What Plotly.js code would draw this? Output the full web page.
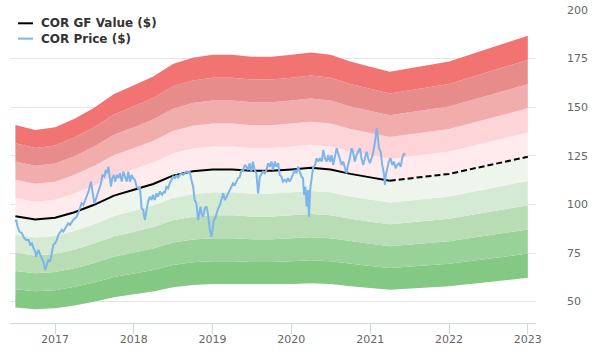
<!DOCTYPE html>
<html>
<head>
<meta charset="utf-8">
<script src="https://cdn.plot.ly/plotly-3.0.1.min.js"></script>
<style>html,body{margin:0;padding:0;background:#fff;}#chart{width:600px;height:360px;}</style>
</head>
<body>
<div id="chart"></div>
<script>
// GF Value (quarterly, then estimates)
const gfDates = ['2016-07-01','2016-10-01','2017-01-01','2017-04-01','2017-07-01','2017-10-01','2018-01-01','2018-04-01','2018-07-01','2018-10-01','2019-01-01','2019-04-01','2019-07-01','2019-10-01','2020-01-01','2020-04-01','2020-07-01','2020-10-01','2021-01-01','2021-04-01','2022-01-01','2023-01-01'];
const gfValues = [93.9,92.2,93.1,96.0,99.8,104.5,107.5,110.5,114.8,117.0,118.0,118.0,117.3,117.3,118.0,118.8,118.0,115.7,113.9,112.2,115.7,124.5];
const gfSolidCount = 20; // solid through 2021-04-01; rest dashed

// band multipliers of GF value and colors (bottom to top)
const bandLevels = [0.5,0.6,0.7,0.8,0.9,1.0,1.1,1.2,1.3,1.4,1.5];
const bandColors = ['#83c883','#98d298','#b8ddb4','#d5ead3','#edf5ec','#ffebee','#fdd4d8','#f1acac','#e88c8b','#f17472'];

// Price
const priceDates = ['2016-06-30','2016-07-05','2016-07-11','2016-07-20','2016-07-31','2016-08-11','2016-08-20','2016-08-31','2016-09-08','2016-09-15','2016-09-23','2016-10-01','2016-10-05','2016-10-16','2016-10-24','2016-11-01','2016-11-08','2016-11-16','2016-11-24','2016-12-01','2016-12-09','2016-12-17','2016-12-24','2017-01-01','2017-01-09','2017-01-16','2017-01-24','2017-02-01','2017-02-08','2017-02-16','2017-02-24','2017-03-03','2017-03-11','2017-03-19','2017-03-26','2017-04-03','2017-04-11','2017-04-18','2017-04-26','2017-05-04','2017-05-12','2017-05-20','2017-05-27','2017-06-04','2017-06-07','2017-06-16','2017-06-22','2017-07-02','2017-07-08','2017-07-17','2017-07-23','2017-08-02','2017-08-08','2017-08-17','2017-08-24','2017-08-30','2017-09-05','2017-09-11','2017-09-17','2017-09-23','2017-09-30','2017-10-06','2017-10-14','2017-10-21','2017-10-29','2017-11-06','2017-11-13','2017-11-21','2017-11-29','2017-12-06','2017-12-14','2017-12-22','2017-12-29','2018-01-06','2018-01-14','2018-01-21','2018-01-29','2018-02-06','2018-02-13','2018-02-21','2018-03-01','2018-03-08','2018-03-16','2018-03-24','2018-03-31','2018-04-08','2018-04-16','2018-04-23','2018-05-01','2018-05-12','2018-05-21','2018-05-24','2018-06-01','2018-06-09','2018-06-17','2018-06-25','2018-07-02','2018-07-10','2018-07-18','2018-07-25','2018-08-02','2018-08-10','2018-08-17','2018-08-25','2018-09-02','2018-09-09','2018-09-17','2018-09-25','2018-10-03','2018-10-10','2018-10-18','2018-10-26','2018-10-30','2018-11-06','2018-11-12','2018-11-18','2018-11-26','2018-12-04','2018-12-11','2018-12-19','2018-12-27','2019-01-01','2019-01-07','2019-01-13','2019-01-20','2019-01-27','2019-02-04','2019-02-12','2019-02-19','2019-02-27','2019-03-07','2019-03-14','2019-03-22','2019-03-30','2019-04-06','2019-04-14','2019-04-22','2019-04-29','2019-05-07','2019-05-15','2019-05-22','2019-05-30','2019-06-07','2019-06-14','2019-06-22','2019-06-30','2019-07-07','2019-07-15','2019-07-23','2019-07-28','2019-07-31','2019-08-08','2019-08-16','2019-08-23','2019-08-31','2019-09-08','2019-09-15','2019-09-23','2019-10-01','2019-10-08','2019-10-16','2019-10-24','2019-11-01','2019-11-08','2019-11-16','2019-11-23','2019-12-01','2019-12-09','2019-12-16','2019-12-24','2020-01-01','2020-01-09','2020-01-17','2020-01-25','2020-02-01','2020-02-09','2020-02-17','2020-02-24','2020-02-29','2020-03-06','2020-03-12','2020-03-18','2020-03-23','2020-03-28','2020-04-04','2020-04-11','2020-04-19','2020-04-27','2020-05-05','2020-05-13','2020-05-21','2020-05-28','2020-06-05','2020-06-13','2020-06-20','2020-06-28','2020-07-06','2020-07-13','2020-07-21','2020-07-29','2020-08-05','2020-08-13','2020-08-21','2020-08-28','2020-09-05','2020-09-13','2020-09-20','2020-09-28','2020-10-06','2020-10-13','2020-10-21','2020-10-29','2020-11-06','2020-11-14','2020-11-21','2020-11-29','2020-12-07','2020-12-15','2020-12-22','2020-12-30','2021-01-07','2021-01-15','2021-01-23','2021-01-31','2021-02-04','2021-02-10','2021-02-18','2021-02-25','2021-03-05','2021-03-10','2021-03-14','2021-03-20','2021-03-28','2021-04-05','2021-04-13','2021-04-21','2021-04-28','2021-05-06','2021-05-14','2021-05-22','2021-05-29','2021-06-06','2021-06-11'];
const priceValues = [91.1,92.0,88.6,86.0,85.2,82.6,81.7,81.7,79.2,80.0,77.5,75.7,73.1,76.6,74.0,72.3,70.6,66.3,69.7,71.4,70.6,75.7,79.2,80.0,81.7,84.3,86.0,86.9,86.0,87.7,88.6,90.3,89.4,91.1,92.0,92.9,93.7,95.5,98.0,100.6,99.7,102.3,104.9,106.6,107.4,111.7,108.3,100.6,102.3,105.7,108.3,110.9,115.2,114.3,117.7,116.0,119.4,114.3,109.1,113.5,115.2,111.7,115.2,113.5,116.0,111.7,116.9,114.3,111.7,116.9,111.7,115.2,113.5,112.6,109.1,108.3,109.1,98.0,97.2,92.0,97.2,101.4,104.0,102.3,104.9,102.3,105.7,104.0,106.6,104.9,106.6,105.7,109.1,108.3,110.9,112.6,114.3,113.5,115.2,113.5,115.2,116.0,115.2,116.0,116.9,116.3,116.9,112.6,109.1,102.3,100.6,92.0,94.6,98.9,94.6,93.7,98.0,98.9,94.6,86.9,83.4,87.7,92.0,92.9,95.5,98.0,99.7,103.2,105.7,102.3,104.0,105.7,107.4,109.1,110.9,110.0,112.0,113.5,114.0,117.7,116.9,120.3,119.4,117.7,121.2,116.9,122.0,117.7,116.0,110.0,105.7,114.3,116.0,116.9,116.0,117.7,121.2,119.4,122.0,117.7,122.0,119.4,121.2,115.2,114.3,111.7,112.6,111.7,113.5,111.7,113.5,115.2,117.7,116.0,119.4,116.9,114.3,113.5,104.9,109.1,98.9,107.4,93.7,107.4,113.0,119.0,120.0,123.7,122.0,123.7,122.0,128.0,123.7,122.0,125.4,122.0,125.4,120.3,124.6,128.9,126.3,123.7,120.3,122.0,118.6,116.0,120.3,123.7,128.9,127.1,122.0,125.4,127.1,128.9,123.7,120.3,123.7,127.1,123.7,121.2,123.7,127.1,132.3,139.2,135.7,128.9,127.1,120.3,116.0,110.0,115.2,117.7,122.0,123.7,120.3,122.0,118.6,120.3,121.2,119.4,123.7,126.3,125.4];

const xTickVals = ['2017-01-01','2018-01-01','2019-01-01','2020-01-01','2021-01-01','2022-01-01','2023-01-01'];
const xTickText = ['2017','2018','2019','2020','2021','2022','2023'];
const yTickVals = [50,75,100,125,150,175,200];

const legendNames = ['COR GF Value ($)', 'COR Price ($)'];
const legendColors = ['#000000', '#7cb5ec'];

const traces = [];
bandLevels.forEach((lvl, i) => {
  traces.push({
    x: gfDates,
    y: gfValues.map(v => v * lvl),
    type: 'scatter', mode: 'lines',
    line: {width: 0, color: 'rgba(0,0,0,0)'},
    fill: i === 0 ? 'none' : 'tonexty',
    fillcolor: i === 0 ? undefined : bandColors[i - 1],
    showlegend: false, hoverinfo: 'skip'
  });
});
traces.push({
  x: gfDates.slice(0, gfSolidCount), y: gfValues.slice(0, gfSolidCount),
  type: 'scatter', mode: 'lines', name: legendNames[0], showlegend: false,
  line: {color: legendColors[0], width: 2}
});
traces.push({
  x: gfDates.slice(gfSolidCount - 1), y: gfValues.slice(gfSolidCount - 1),
  type: 'scatter', mode: 'lines', showlegend: false,
  line: {color: legendColors[0], width: 2, dash: '6px,3px'}
});
traces.push({
  x: priceDates, y: priceValues,
  type: 'scatter', mode: 'lines', name: legendNames[1], showlegend: false,
  line: {color: legendColors[1], width: 2}
});

// custom legend (Highcharts-like compact layout)
const legRowsY = [0.9575, 0.9085];
const shapes = legendNames.map((n, i) => ({
  type: 'line', xref: 'paper', yref: 'paper', layer: 'above',
  x0: 0.0152, x1: 0.0437, y0: legRowsY[i], y1: legRowsY[i],
  line: {color: legendColors[i], width: 2}
}));
const annotations = legendNames.map((n, i) => ({
  text: n, xref: 'paper', yref: 'paper', x: 0.0551, y: legRowsY[i],
  xanchor: 'left', yanchor: 'middle', showarrow: false,
  font: {family: 'DejaVu Sans, sans-serif', size: 12, color: '#333333', weight: 'bold'}
}));

const layout = {
  width: 600, height: 360,
  margin: {l: 10, r: 64, t: 10, b: 37},
  paper_bgcolor: '#ffffff', plot_bgcolor: '#ffffff',
  font: {family: 'DejaVu Sans, sans-serif', size: 11, color: '#666666'},
  showlegend: false,
  shapes: shapes,
  annotations: annotations,
  xaxis: {
    type: 'date',
    range: ['2016-06-06', '2023-02-08'],
    tickmode: 'array', tickvals: xTickVals, ticktext: xTickText,
    ticks: 'outside', ticklen: 10, tickcolor: '#ccd6eb', tickwidth: 1,
    showline: true, linecolor: '#ccd6eb', linewidth: 1,
    showgrid: false, zeroline: false,
    ticklabelstandoff: -4,
    tickfont: {family: 'DejaVu Sans, sans-serif', size: 11, color: '#666666'}
  },
  yaxis: {
    side: 'right',
    range: [39, 200],
    tickmode: 'array', tickvals: yTickVals,
    ticks: '', showline: false, zeroline: false,
    showgrid: true, gridcolor: '#e6e6e6', gridwidth: 1,
    ticklabelstandoff: 30,
    tickfont: {family: 'DejaVu Sans, sans-serif', size: 11, color: '#666666'}
  },
  hovermode: false
};

Plotly.newPlot('chart', traces, layout, {displayModeBar: false, staticPlot: true});
</script>
</body>
</html>
